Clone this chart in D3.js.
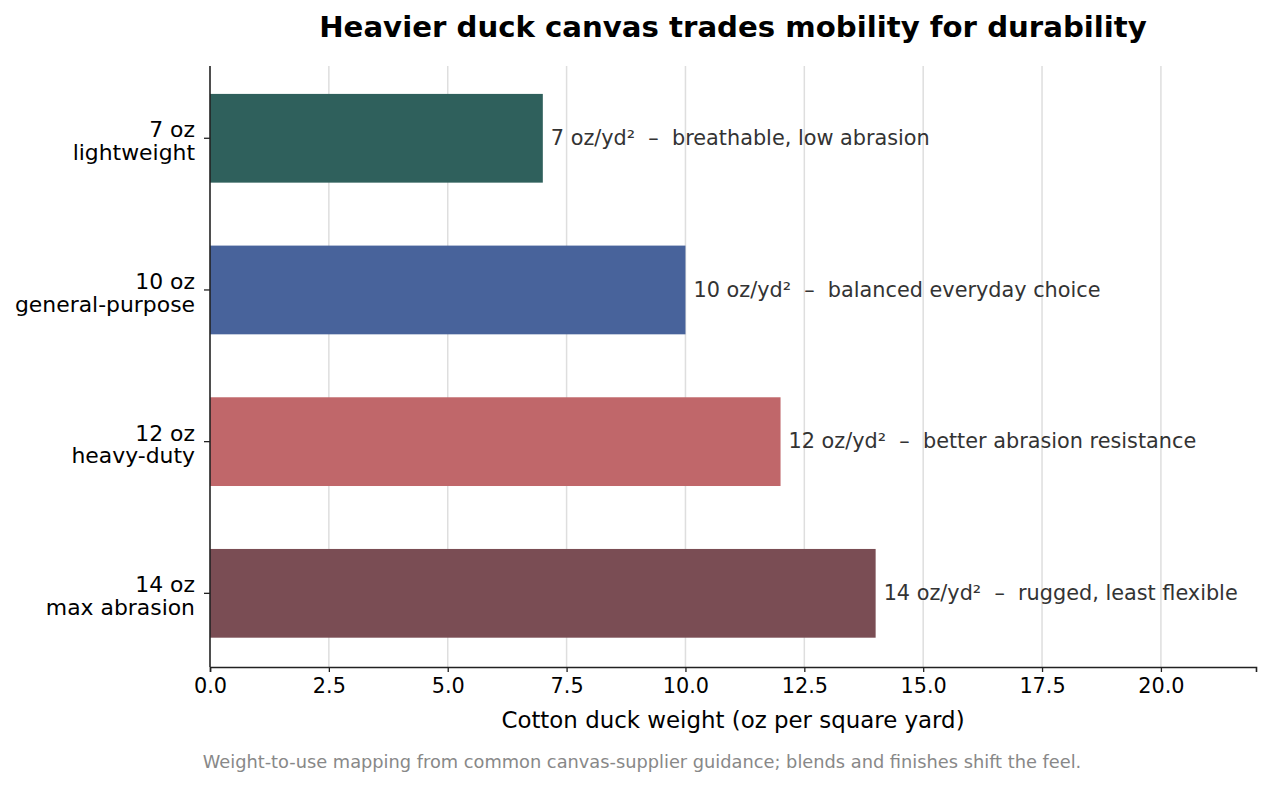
<!DOCTYPE html>
<html>
<head>
<meta charset="utf-8">
<script src="https://cdn.jsdelivr.net/npm/d3@7"></script>
<style>
  body { margin: 0; background: #fff; }
  text { font-family: "DejaVu Sans", sans-serif; }
</style>
</head>
<body>
<svg id="chart" width="1271" height="787"></svg>
<script>
// chart data
const weights = [7, 10, 12, 14]
const weightLabels = ['7 oz', '10 oz', '12 oz', '14 oz']
const useClasses = ['lightweight', 'general-purpose', 'heavy-duty', 'max abrasion']
const notes = ['breathable, low abrasion', 'balanced everyday choice', 'better abrasion resistance', 'rugged, least flexible']
const barColors = ['#2f605c', '#48639b', '#c0676a', '#7a4d54']
const xTicks = [0, 2.5, 5, 7.5, 10, 12.5, 15, 17.5, 20]

const margin = { top: 66, right: 15, bottom: 120, left: 210 }
const width = 1271 - margin.left - margin.right
const height = 787 - margin.top - margin.bottom

const svg = d3.select('#chart')
const g = svg.append('g')
  .attr('transform', `translate(${margin.left},${margin.top})`)

const xScale = d3.scaleLinear().domain([0, 22]).range([0, width])
const yScale = d3.scaleBand()
  .domain(d3.range(weights.length))
  .range([0, height - 1.4])
  .paddingInner(0.415)
  .paddingOuter(0.184)

// vertical grid lines, behind the bars
g.append('g')
  .selectAll('line')
  .data(xTicks.slice(1))
  .enter()
  .append('line')
  .attr('x1', d => xScale(d))
  .attr('x2', d => xScale(d))
  .attr('y1', 0)
  .attr('y2', height)
  .attr('stroke', '#dedede')
  .attr('stroke-width', 1.5)

// bars
g.selectAll('rect.bar')
  .data(weights)
  .enter()
  .append('rect')
  .attr('class', 'bar')
  .attr('x', xScale(0))
  .attr('y', (d, i) => yScale(i))
  .attr('width', d => xScale(d) - xScale(0))
  .attr('height', yScale.bandwidth())
  .attr('fill', (d, i) => barColors[i])

// value notes at the end of each bar
g.selectAll('text.note')
  .data(weights)
  .enter()
  .append('text')
  .attr('class', 'note')
  .attr('x', d => xScale(d) + 8)
  .attr('y', (d, i) => yScale(i) + yScale.bandwidth() / 2)
  .attr('dy', '0.32em')
  .attr('font-size', '20.8px')
  .attr('fill', '#333333')
  .style('white-space', 'pre')
  .text((d, i) => `${d} oz/yd²  –  ${notes[i]}`)

// x axis
const xAxis = g.append('g')
  .attr('transform', `translate(0,${height})`)
  .call(d3.axisBottom(xScale).tickValues(xTicks).tickFormat(d3.format('.1f')).tickSize(5).tickPadding(6))
xAxis.select('.domain').attr('stroke', '#222').attr('stroke-width', 1.6)
xAxis.selectAll('.tick line').attr('stroke', '#222').attr('stroke-width', 1.3)
xAxis.selectAll('.tick text')
  .attr('font-family', '"DejaVu Sans", sans-serif')
  .attr('font-size', '20.8px')
  .attr('fill', '#000')

// y axis (two-line labels drawn by hand)
const yAxis = g.append('g')
yAxis.append('line')
  .attr('x1', 0).attr('x2', 0)
  .attr('y1', 0).attr('y2', height)
  .attr('stroke', '#222')
  .attr('stroke-width', 1.6)

const yTick = yAxis.selectAll('g.ytick')
  .data(weights)
  .enter()
  .append('g')
  .attr('class', 'ytick')
  .attr('transform', (d, i) => `translate(0,${yScale(i) + yScale.bandwidth() / 2})`)

yTick.append('line')
  .attr('x1', -6).attr('x2', 0)
  .attr('stroke', '#222')
  .attr('stroke-width', 1.3)

yTick.append('text')
  .attr('x', -15)
  .attr('y', -1)
  .attr('text-anchor', 'end')
  .attr('font-size', '21.9px')
  .attr('fill', '#000')
  .text((d, i) => weightLabels[i])

yTick.append('text')
  .attr('x', -15)
  .attr('y', 21.7)
  .attr('text-anchor', 'end')
  .attr('font-size', '21.9px')
  .attr('fill', '#000')
  .text((d, i) => useClasses[i])

// title, axis label, footnote
svg.append('text')
  .attr('x', margin.left + width / 2)
  .attr('y', 37)
  .attr('text-anchor', 'middle')
  .attr('font-size', '29.2px')
  .attr('font-weight', 'bold')
  .attr('fill', '#000')
  .text('Heavier duck canvas trades mobility for durability')

svg.append('text')
  .attr('x', margin.left + width / 2)
  .attr('y', 728)
  .attr('text-anchor', 'middle')
  .attr('font-size', '22.9px')
  .attr('fill', '#000')
  .text('Cotton duck weight (oz per square yard)')

svg.append('text')
  .attr('x', 642)
  .attr('y', 768)
  .attr('text-anchor', 'middle')
  .attr('font-size', '17.8px')
  .attr('fill', '#888888')
  .text('Weight-to-use mapping from common canvas-supplier guidance; blends and finishes shift the feel.')
</script>
</body>
</html>
